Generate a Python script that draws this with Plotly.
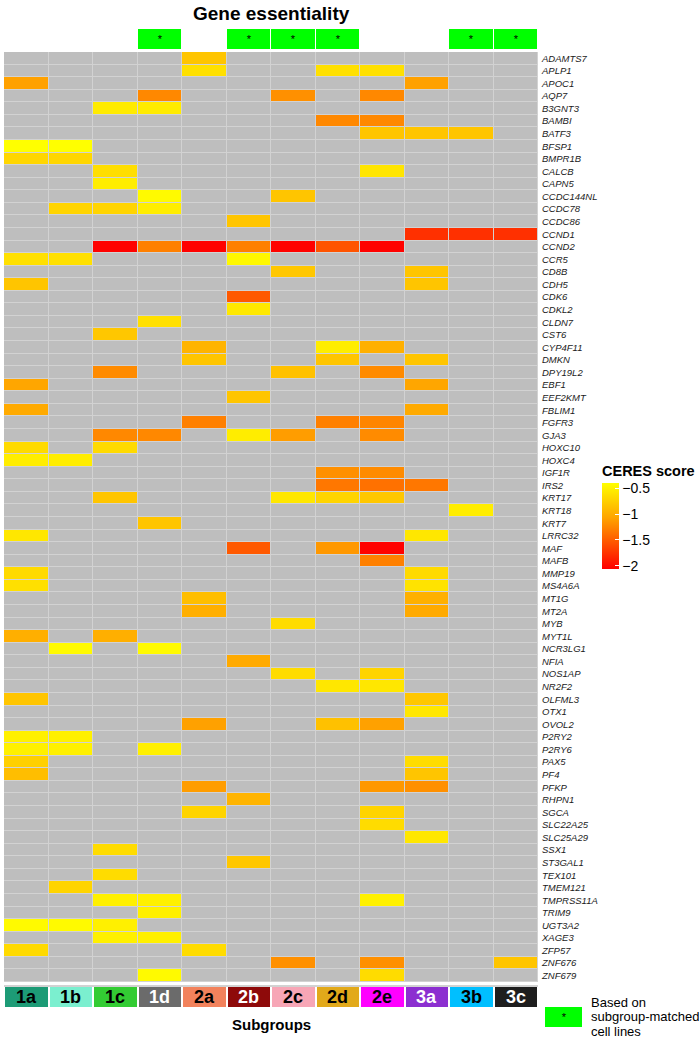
import plotly.graph_objects as go

W, H = 700, 1041

subgroups = ["1a", "1b", "1c", "1d", "2a", "2b", "2c", "2d", "2e", "3a", "3b", "3c"]

genes = [
    "ADAMTS7", "APLP1", "APOC1", "AQP7", "B3GNT3", "BAMBI", "BATF3", "BFSP1", "BMPR1B",
    "CALCB", "CAPN5", "CCDC144NL", "CCDC78", "CCDC86", "CCND1", "CCND2", "CCR5", "CD8B",
    "CDH5", "CDK6", "CDKL2", "CLDN7", "CST6", "CYP4F11", "DMKN", "DPY19L2", "EBF1",
    "EEF2KMT", "FBLIM1", "FGFR3", "GJA3", "HOXC10", "HOXC4", "IGF1R", "IRS2", "KRT17",
    "KRT18", "KRT7", "LRRC32", "MAF", "MAFB", "MMP19", "MS4A6A", "MT1G", "MT2A", "MYB",
    "MYT1L", "NCR3LG1", "NFIA", "NOS1AP", "NR2F2", "OLFML3", "OTX1", "OVOL2", "P2RY2",
    "P2RY6", "PAX5", "PF4", "PFKP", "RHPN1", "SGCA", "SLC22A25", "SLC25A29", "SSX1",
    "ST3GAL1", "TEX101", "TMEM121", "TMPRSS11A", "TRIM9", "UGT3A2", "XAGE3", "ZFP57",
    "ZNF676", "ZNF679",
]

# CERES scores per subgroup (genes not listed = not significant / grey)
ceres_1a = {"APOC1": -1.09, "BFSP1": -0.40, "BMPR1B": -0.70, "CCR5": -0.63, "CDH5": -0.83,
            "EBF1": -1.06, "FBLIM1": -1.03, "HOXC10": -0.67, "HOXC4": -0.53, "LRRC32": -0.58,
            "MMP19": -0.67, "MS4A6A": -0.63, "MYT1L": -0.99, "OLFML3": -0.83, "P2RY2": -0.51,
            "P2RY6": -0.51, "PAX5": -0.75, "PF4": -0.88, "UGT3A2": -0.44, "ZFP57": -0.67}
ceres_1b = {"BFSP1": -0.40, "BMPR1B": -0.70, "CCDC78": -0.72, "CCR5": -0.63, "HOXC4": -0.53,
            "NCR3LG1": -0.44, "P2RY2": -0.51, "P2RY6": -0.51, "TMEM121": -0.72, "UGT3A2": -0.44}
ceres_1c = {"B3GNT3": -0.55, "CALCB": -0.64, "CAPN5": -0.53, "CCDC78": -0.72, "CCND2": -2.05,
            "CST6": -0.81, "DPY19L2": -1.22, "GJA3": -1.24, "HOXC10": -0.67, "KRT17": -0.83,
            "MYT1L": -0.99, "SSX1": -0.66, "TEX101": -0.66, "TMPRSS11A": -0.51,
            "UGT3A2": -0.51, "XAGE3": -0.51}
ceres_1d = {"AQP7": -1.24, "B3GNT3": -0.55, "CCDC144NL": -0.44, "CCDC78": -0.53,
            "CCND2": -1.29, "CLDN7": -0.63, "GJA3": -1.24, "KRT7": -0.83, "NCR3LG1": -0.44,
            "P2RY6": -0.51, "TMPRSS11A": -0.51, "TRIM9": -0.51, "XAGE3": -0.51, "ZNF679": -0.44}
ceres_2a = {"ADAMTS7": -0.83, "APLP1": -0.63, "CCND2": -2.05, "CYP4F11": -0.95, "DMKN": -0.83,
            "FGFR3": -1.29, "MT1G": -0.88, "MT2A": -0.99, "OVOL2": -1.09, "PFKP": -1.11,
            "SGCA": -0.72, "ZFP57": -0.66}
ceres_2b = {"CCDC86": -0.83, "CCND2": -1.29, "CCR5": -0.45, "CDK6": -1.52, "CDKL2": -0.57,
            "EEF2KMT": -0.83, "GJA3": -0.53, "MAF": -1.52, "NFIA": -1.03, "RHPN1": -0.95,
            "ST3GAL1": -0.81}
ceres_2c = {"AQP7": -1.19, "CCDC144NL": -0.83, "CCND2": -2.05, "CD8B": -0.81, "DPY19L2": -0.86,
            "GJA3": -1.11, "KRT17": -0.58, "MYB": -0.66, "NOS1AP": -0.66, "ZNF676": -1.19}
ceres_2d = {"APLP1": -0.63, "BAMBI": -1.24, "CCND2": -1.55, "CYP4F11": -0.53, "DMKN": -0.83,
            "FGFR3": -1.29, "IGF1R": -1.19, "IRS2": -1.34, "KRT17": -0.72, "MAF": -1.14,
            "NR2F2": -0.58, "OVOL2": -0.86}
ceres_2e = {"APLP1": -0.63, "AQP7": -1.24, "BAMBI": -1.24, "BATF3": -0.83, "CALCB": -0.59,
            "CCND2": -2.05, "CYP4F11": -0.98, "DPY19L2": -1.22, "FGFR3": -1.26, "GJA3": -1.22,
            "IGF1R": -1.22, "IRS2": -1.38, "KRT17": -0.81, "MAF": -2.05, "MAFB": -1.29,
            "NOS1AP": -0.72, "NR2F2": -0.58, "OVOL2": -1.09, "PFKP": -1.14, "SGCA": -0.72,
            "SLC22A25": -0.66, "TMPRSS11A": -0.50, "ZNF676": -1.19, "ZNF679": -0.66}
ceres_3a = {"APOC1": -1.09, "BATF3": -0.83, "CCND1": -1.77, "CD8B": -0.83, "CDH5": -0.83,
            "DMKN": -0.83, "EBF1": -1.06, "FBLIM1": -1.03, "IRS2": -1.34, "LRRC32": -0.58,
            "MMP19": -0.67, "MS4A6A": -0.61, "MT1G": -0.98, "MT2A": -1.03, "OLFML3": -0.81,
            "OTX1": -0.58, "PAX5": -0.66, "PF4": -0.83, "PFKP": -1.19, "SLC25A29": -0.58}
ceres_3b = {"BATF3": -0.83, "CCND1": -1.77, "KRT18": -0.53}
ceres_3c = {"CCND1": -1.77, "ZNF676": -0.83}

matched_subgroups = ["1d", "2b", "2c", "2d", "3b", "3c"]

subgroup_colors = ["#1D9B76", "#7BEFCF", "#33CC33", "#6B6B6B", "#F2825C", "#8E0A0A",
                   "#F7A6B6", "#E2A91A", "#FF00FF", "#8C2FD0", "#00BFFF", "#1E1E1E"]
subgroup_label_colors = ["black", "black", "black", "white", "black", "white",
                         "black", "black", "black", "white", "black", "white"]

columns = {"1a": ceres_1a, "1b": ceres_1b, "1c": ceres_1c, "1d": ceres_1d,
           "2a": ceres_2a, "2b": ceres_2b, "2c": ceres_2c, "2d": ceres_2d,
           "2e": ceres_2e, "3a": ceres_3a, "3b": ceres_3b, "3c": ceres_3c}

z = [[columns[s].get(g) for s in subgroups] for g in genes]


def fx(px):
    return px / W


def fy(py):
    return 1 - py / H


FONT = "Liberation Sans, Arial, Helvetica, sans-serif"

fig = go.Figure()

# grey background cells (no score)
fig.add_trace(go.Heatmap(
    x=subgroups, y=genes, z=[[1] * len(subgroups) for _ in genes],
    colorscale=[[0, "#BEBEBE"], [1, "#BEBEBE"]], showscale=False,
    xgap=1, ygap=1, hoverinfo="skip", xaxis="x", yaxis="y"))

# CERES scores
fig.add_trace(go.Heatmap(
    x=subgroups, y=genes, z=z, zmin=-2.06, zmax=-0.40,
    colorscale=[[0, "#FF0000"], [0.6, "#FFA500"], [1, "#FFFF00"]],
    xgap=1, ygap=1, xaxis="x", yaxis="y",
    colorbar=dict(
        title=dict(text="<b>CERES score</b>", side="top",
                   font=dict(family=FONT, size=14.5, color="black")),
        x=fx(602), xanchor="left", xpad=0,
        y=fy(462), yanchor="top", ypad=0,
        len=107, lenmode="pixels", thickness=17, thicknessmode="pixels",
        outlinewidth=0,
        tickvals=[-0.5, -1, -1.5, -2],
        ticks="inside", ticklen=4, tickcolor="white",
        tickfont=dict(family=FONT, size=14, color="black"),
    )))

# matched cell line annotation row
fig.add_trace(go.Heatmap(
    x=subgroups, y=["m"], z=[[1] * len(subgroups)],
    colorscale=[[0, "white"], [1, "white"]], showscale=False,
    hoverinfo="skip", xaxis="x2", yaxis="y2"))
fig.add_trace(go.Heatmap(
    x=subgroups, y=["m"],
    z=[[1 if s in matched_subgroups else None for s in subgroups]],
    text=[["*" if s in matched_subgroups else "" for s in subgroups]],
    texttemplate="%{text}", textfont=dict(family=FONT, size=11, color="black"),
    colorscale=[[0, "#00FF00"], [1, "#00FF00"]], showscale=False,
    xgap=1, hoverinfo="skip", xaxis="x2", yaxis="y2"))

# subgroup bar
fig.add_trace(go.Heatmap(
    x=subgroups, y=["s"], z=[[1] * len(subgroups)],
    colorscale=[[0, "white"], [1, "white"]], showscale=False,
    hoverinfo="skip", xaxis="x3", yaxis="y3"))
n = len(subgroups)
disc = []
for i, c in enumerate(subgroup_colors):
    disc.append([i / n, c])
    disc.append([(i + 1) / n, c])
fig.add_trace(go.Heatmap(
    x=subgroups, y=["s"], z=[[i + 0.5 for i in range(n)]], zmin=0, zmax=n,
    colorscale=disc, showscale=False, xgap=2,
    hoverinfo="skip", xaxis="x3", yaxis="y3"))

# legend key
fig.add_trace(go.Heatmap(
    x=["k"], y=["k"], z=[[1]], text=[["*"]], texttemplate="%{text}",
    textfont=dict(family=FONT, size=11, color="black"),
    colorscale=[[0, "#00FF00"], [1, "#00FF00"]], showscale=False,
    hoverinfo="skip", xaxis="x4", yaxis="y4"))

for i, s in enumerate(subgroups):
    fig.add_annotation(x=s, y="s", xref="x3", yref="y3", text=f"<b>{s}</b>",
                       showarrow=False, yanchor="middle",
                       font=dict(family=FONT, size=18, color=subgroup_label_colors[i]))

fig.add_annotation(x=fx(271), y=fy(13), xref="paper", yref="paper",
                   text="<b>Gene essentiality</b>", showarrow=False,
                   xanchor="center", yanchor="middle",
                   font=dict(family=FONT, size=19, color="black"))
fig.add_annotation(x=fx(271), y=fy(1024), xref="paper", yref="paper",
                   text="<b>Subgroups</b>", showarrow=False,
                   xanchor="center", yanchor="middle",
                   font=dict(family=FONT, size=15, color="black"))
for txt, ypx in [("Based on", 1002), ("subgroup-matched", 1016), ("cell lines", 1031)]:
    fig.add_annotation(x=fx(589), y=fy(ypx), xref="paper", yref="paper", text=txt,
                       showarrow=False, xanchor="left", yanchor="middle",
                       font=dict(family=FONT, size=13, color="black"))

hidden = dict(showticklabels=False, showgrid=False, zeroline=False, ticks="",
              showline=False, fixedrange=True)

fig.update_layout(
    width=W, height=H, margin=dict(l=0, r=0, t=0, b=0),
    paper_bgcolor="white", plot_bgcolor="#D2D2D2",
    xaxis=dict(domain=[fx(4), fx(538)], anchor="y", type="category", **hidden),
    yaxis=dict(domain=[fy(982), fy(52)], anchor="x", type="category",
               autorange="reversed", side="right", showgrid=False, zeroline=False,
               ticks="", showline=False, automargin=False, ticklabelstandoff=3,
               tickfont=dict(family=FONT, size=9.5, color="#1a1a1a", style="italic")),
    xaxis2=dict(domain=[fx(4), fx(538)], anchor="y2", type="category", **hidden),
    yaxis2=dict(domain=[fy(49), fy(29)], anchor="x2", type="category", **hidden),
    xaxis3=dict(domain=[fx(4), fx(538)], anchor="y3", type="category", **hidden),
    yaxis3=dict(domain=[fy(1007), fy(985)], anchor="x3", type="category", **hidden),
    xaxis4=dict(domain=[fx(545), fx(582)], anchor="y4", type="category", **hidden),
    yaxis4=dict(domain=[fy(1027), fy(1007)], anchor="x4", type="category", **hidden),
)

# remove the default 8px page margin so the 700x1041 figure fills the window
fig.write_html("out.html", config={"displayModeBar": False},
               post_script="document.body.style.margin='0';document.body.style.overflow='hidden';")
